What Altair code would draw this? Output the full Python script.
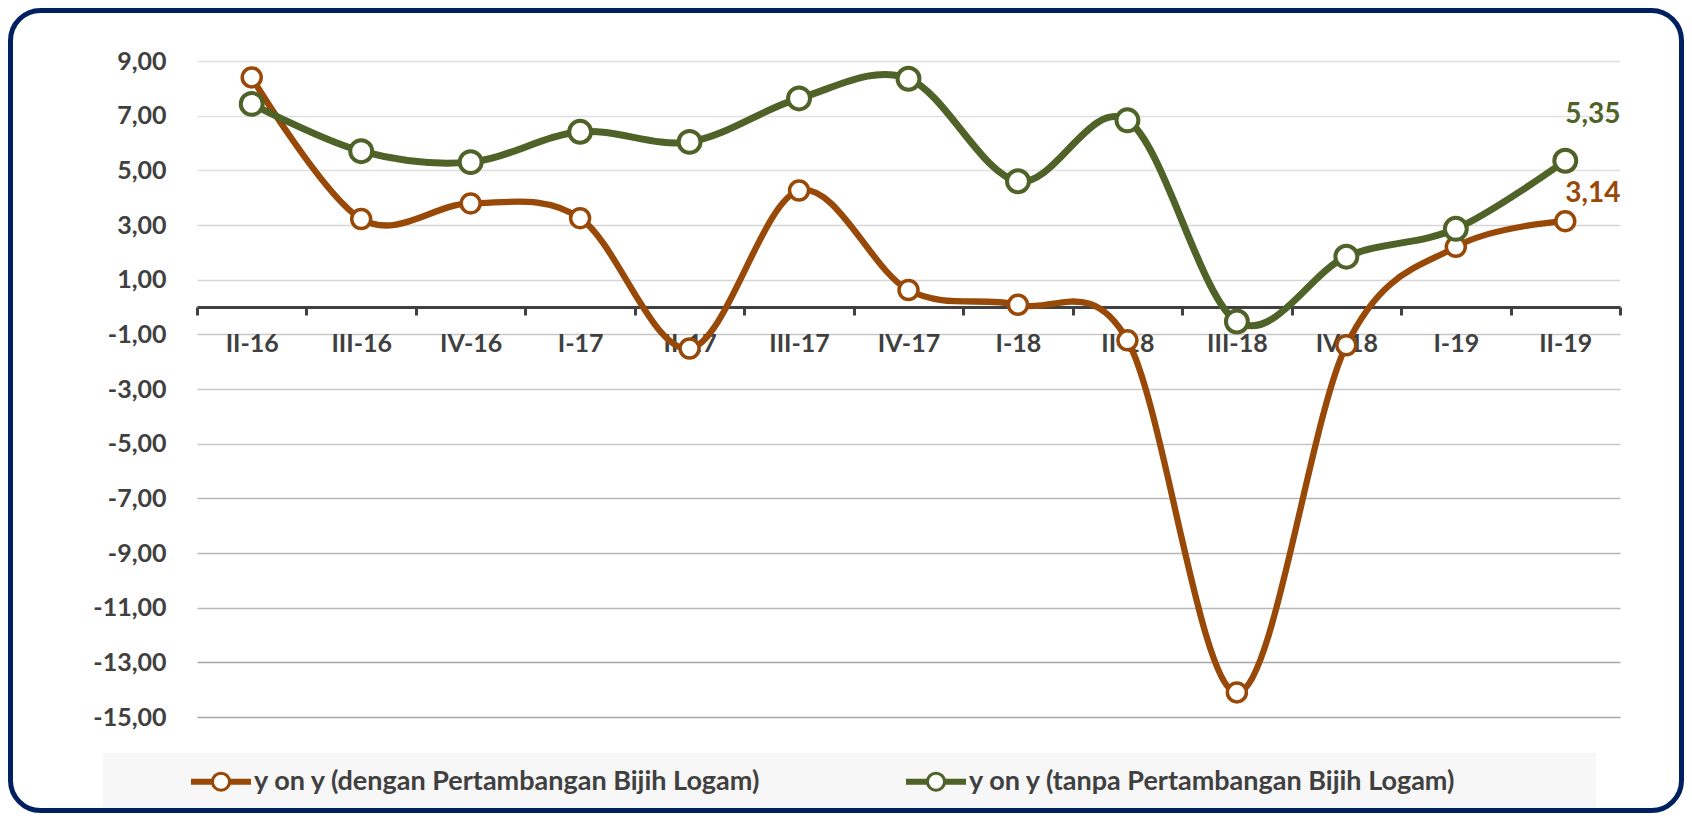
import altair as alt
import pandas as pd

# ---- data ----
categories = ["II-16", "III-16", "IV-16", "I-17", "II-17", "III-17", "IV-17",
              "I-18", "II-18", "III-18", "IV-18", "I-19", "II-19"]
dengan = [8.40, 3.22, 3.79, 3.25, -1.52, 4.26, 0.62, 0.08, -1.22, -14.10, -1.40, 2.20, 3.14]
tanpa = [7.43, 5.70, 5.30, 6.41, 6.04, 7.63, 8.35, 4.60, 6.83, -0.53, 1.84, 2.86, 5.35]
series_names = ["y on y (dengan Pertambangan Bijih Logam)",
                "y on y (tanpa Pertambangan Bijih Logam)"]
series_colors = ["#984807", "#4F6228"]
y_ticks = [-15, -13, -11, -9, -7, -5, -3, -1, 1, 3, 5, 7, 9]

rows = []
for name, vals in zip(series_names, [dengan, tanpa]):
    for c, v in zip(categories, vals):
        rows.append({"cat": c, "series": name, "value": v})
df = pd.DataFrame(rows)
one = pd.DataFrame({"k": [0]})

FONT = "Lato"
TXT = "#404040"

x_enc = alt.X(
    "cat:N", sort=categories, bandPosition=0.5,
    scale=alt.Scale(type="band", paddingInner=0, paddingOuter=0),
    axis=alt.Axis(
        title=None, orient="bottom", offset=-410, grid=False, labelAngle=0,
        domainColor=TXT, domainWidth=3, tickColor=TXT, tickWidth=3, tickSize=8,
        tickBand="extent", labelFont=FONT, labelFontWeight="bold", labelFontSize=25,
        labelColor=TXT, labelPadding=28, labelBaseline="middle",
    ),
)

y_enc = alt.Y(
    "value:Q",
    scale=alt.Scale(domain=[-15, 9], nice=False, zero=False),
    axis=alt.Axis(
        title=None, values=y_ticks, domain=False, ticks=False, tickSize=0,
        labelPadding=31, labelFont=FONT, labelFontWeight="bold", labelFontSize=25,
        labelColor=TXT,
        labelExpr="(datum.value < 0 ? '-' : '') + replace(format(abs(datum.value), '.2f'), '.', ',')",
        gridWidth=1.5,
        gridColor={"condition": [
            {"test": "datum.value >= 5", "value": "#e0e0e0"},
            {"test": "datum.value >= 1", "value": "#d6d6d6"},
            {"test": "datum.value >= -5", "value": "#c8c8c8"},
            {"test": "datum.value >= -11", "value": "#b8b8b8"},
        ], "value": "#a6a6a6"},
    ),
)

legend_path = ("M-1,-0.05H-0.3V0.05H-1Z M0.3,-0.05H1V0.05H0.3Z "
               "M0.3,0A0.3,0.3,0,1,1,-0.3,0A0.3,0.3,0,1,1,0.3,0Z")
legend = alt.Legend(
    title=None, orient="none", legendX=-6, legendY=690.5, direction="horizontal",
    symbolType=legend_path, symbolSize=3249, symbolStrokeWidth=3,
    symbolFillColor="white", symbolOpacity=1, labelFont=FONT, labelFontSize=27,
    labelFontWeight="bold", labelColor=TXT, labelOffset=3, columnPadding=139,
    padding=0, labelLimit=0,
)
stroke_enc = alt.Stroke("series:N", scale=alt.Scale(domain=series_names, range=series_colors),
                        sort=series_names, legend=legend)

base = alt.Chart(df)

legend_bg = alt.Chart(one).mark_rect(fill="#f7f7f7").encode(
    x=alt.value(-94), x2=alt.value(1399), y=alt.value(692), y2=alt.value(746.7))

layers = [legend_bg]
line_widths = [6.3, 7]
point_sizes = [360, 480]
point_strokes = [3.5, 4]
for name, lw, ps, pw in zip(series_names, line_widths, point_sizes, point_strokes):
    sub = base.transform_filter(alt.datum.series == name)
    layers.append(sub.mark_line(interpolate="cardinal", strokeWidth=lw).encode(
        x=x_enc, y=y_enc, stroke=stroke_enc))
    layers.append(sub.mark_point(shape="circle", filled=True, fill="white", size=ps,
                                 strokeWidth=pw, opacity=1).encode(
        x=x_enc, y=y_enc, stroke=stroke_enc))

for name, col, dy in zip(series_names, series_colors, [-27, -46]):
    layers.append(
        base.transform_filter((alt.datum.series == name) & (alt.datum.cat == categories[-1]))
        .transform_calculate(label="replace(format(datum.value, '.2f'), '.', ',')")
        .mark_text(align="left", baseline="middle", dx=0, dy=dy, font=FONT,
                   fontWeight="bold", fontSize=28, color=col)
        .encode(x=x_enc, y=y_enc, text="label:N"))

frame = alt.Chart(one).mark_rect(fillOpacity=0, stroke="#002060", strokeWidth=5,
                                 cornerRadius=30).encode(
    x=alt.value(-186.5), x2=alt.value(1484.5), y=alt.value(-50.5), y2=alt.value(749.5))
layers.append(frame)

chart = alt.layer(*layers).properties(
    width=1423, height=656,
    autosize=alt.AutoSizeParams(type="none"),
    padding={"left": 189, "top": 53, "right": 64, "bottom": 96},
    background="white",
).configure_view(stroke=None)

chart.save("out.html", embed_options={"renderer": "svg", "actions": False})
